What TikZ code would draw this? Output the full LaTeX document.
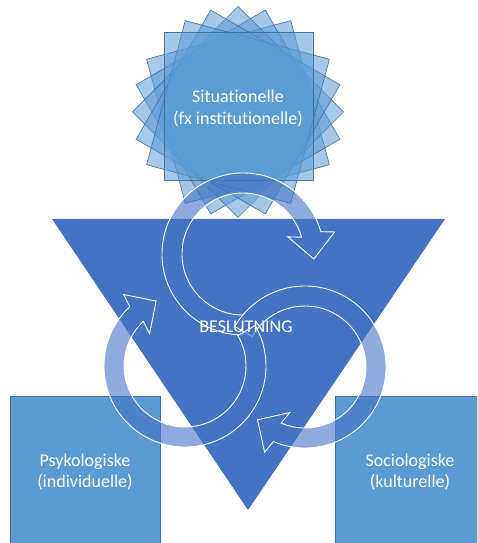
\documentclass[tikz,border=0pt]{standalone}
\usepackage{fontspec}
\setmainfont{Carlito}[Ligatures={NoCommon}]
\usetikzlibrary{calc}
\definecolor{tri}{HTML}{4472C4}
\definecolor{boxc}{HTML}{5B9BD5}
\definecolor{edgec}{HTML}{41719C}
\newcommand\ringarrow[4]{%
  \coordinate (B) at ($(#1)+(#3:71)$);
  \coordinate (T) at ($(#1)+(#4:71)$);
  \coordinate (Wi) at ($(B)!23.5pt!-90:(T)$);
  \coordinate (Wo) at ($(B)!23.5pt!90:(T)$);
  \path[ring] ($(#1)+(#2:61)$) arc[start angle=#2, end angle=#3, radius=61]
     -- (Wi) -- (T) -- (Wo) -- ($(#1)+(#3:81)$)
     arc[start angle=#3, end angle=#2, radius=81] -- cycle;}
\begin{document}
\begin{tikzpicture}[x=1pt,y=1pt,
  sq/.style={fill=boxc, fill opacity=0.55, draw=edgec, draw opacity=0.9, line width=0.7pt},
  boxstyle/.style={fill=boxc, draw=edgec, line width=0.6pt},
  ring/.style={fill=tri, fill opacity=0.6, draw=white, line width=0.9pt},
  lbl/.style={text=white, align=center, font=\fontsize{18}{21.5}\selectfont}]
\useasboundingbox (0,0) rectangle (477,543);
\clip (0,0) rectangle (477,543);
% starburst of rotated squares
\coordinate (sc) at (238,431);
\foreach \a in {15,30,45,60,75}
  \draw[sq, rotate around={\a:(sc)}] (163.4,356.4) rectangle (312.6,505.6);
\draw[sq] (164,363) rectangle (313,511);
% triangle
\fill[tri] (52,324) -- (445,324) -- (248,33) -- cycle;
% boxes
\draw[boxstyle] (10,-5) rectangle (160,147);
\draw[boxstyle] (335,-5) rectangle (485,147);
% circular arrows
\coordinate (ct) at (243,289);
\coordinate (cl) at (185,177);
\coordinate (cr) at (305,176);
\ringarrow{ct}{270}{16}{-4}
\ringarrow{cr}{150}{-113}{-132}
\ringarrow{cl}{30}{-227}{-246}
% labels
\node[lbl] (sit) at (238,434.5) {Situationelle\\(fx institutionelle)};
\node[lbl] (bes) at (246,216) {BESLUTNING};
\node[lbl] (psy) at (85,71) {Psykologiske\\(individuelle)};
\node[lbl] (soc) at (410,71) {Sociologiske\\(kulturelle)};
\end{tikzpicture}
\end{document}
